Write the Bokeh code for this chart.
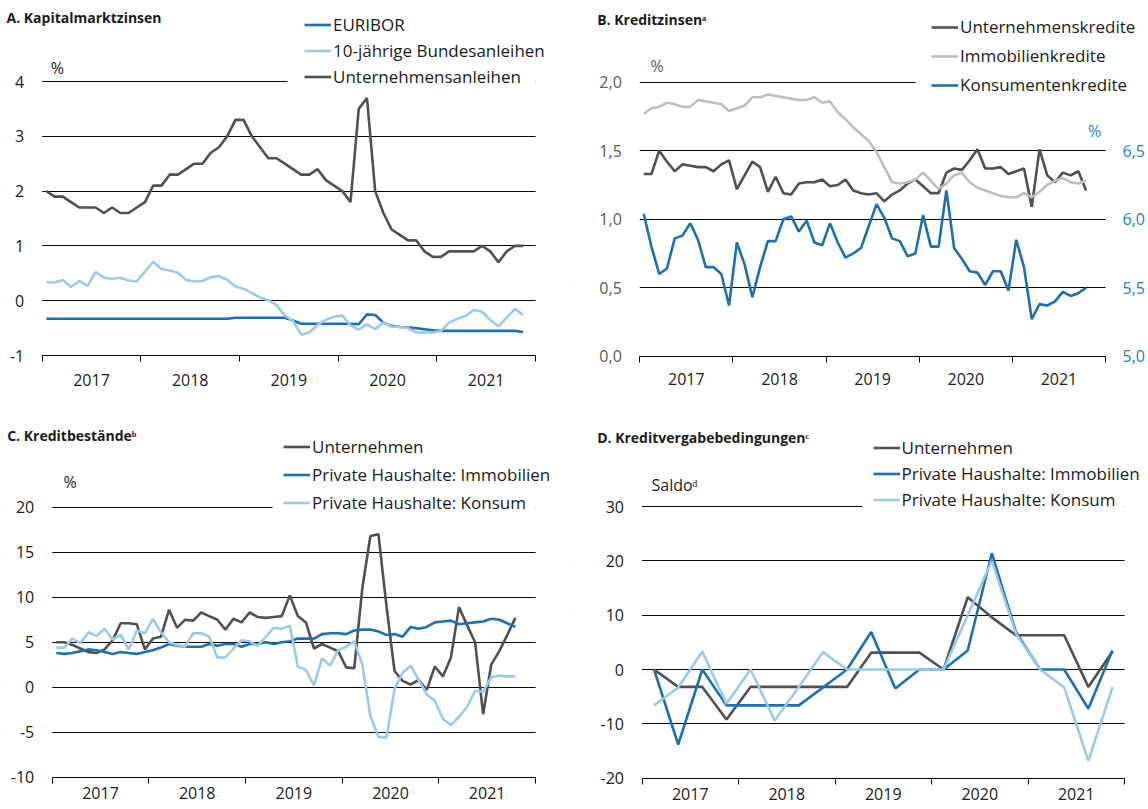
from bokeh.plotting import figure
from bokeh.models import Range1d, LinearAxis, FixedTicker, Legend, LegendItem, Label, BoxAnnotation
from bokeh.layouts import column, row
from bokeh.embed import file_html
from bokeh.resources import INLINE

FONT = "Open Sans"
DARK = "#505050"
BLUE = "#1c6fb5"
LIGHTBLUE = "#9cc8e9"
LIGHTGRAY = "#bdbdbd"
TXT = "#1a1a1a"

# ---------------- data ----------------
years = [2017, 2018, 2019, 2020, 2021]
year_labels = ["2017", "2018", "2019", "2020", "2021"]

# A. Kapitalmarktzinsen (monthly, Jan 2017 - Nov 2021)
a_euribor = [-0.33] * 23 + [-0.31] * 7 + [-0.36] + [-0.42] * 7 + [
    -0.43, -0.25, -0.26, -0.40, -0.46, -0.48, -0.49, -0.50, -0.52, -0.54,
    -0.55, -0.55, -0.55, -0.55, -0.55, -0.55, -0.55, -0.55, -0.55, -0.55, -0.57]
a_bund = [0.34, 0.33, 0.38, 0.25, 0.36, 0.27, 0.52, 0.42, 0.40, 0.42,
          0.37, 0.35, 0.53, 0.71, 0.58, 0.55, 0.51, 0.38, 0.35, 0.36,
          0.43, 0.45, 0.38, 0.26, 0.22, 0.14, 0.06, 0.01, -0.08, -0.27,
          -0.37, -0.62, -0.58, -0.44, -0.35, -0.29, -0.27, -0.45, -0.53, -0.43,
          -0.52, -0.40, -0.47, -0.48, -0.50, -0.58, -0.58, -0.58, -0.55, -0.40,
          -0.33, -0.28, -0.17, -0.20, -0.35, -0.47, -0.31, -0.15, -0.26]
a_corp = [2.0, 1.9, 1.9, 1.8, 1.7, 1.7, 1.7, 1.6, 1.7, 1.6,
          1.6, 1.7, 1.8, 2.1, 2.1, 2.3, 2.3, 2.4, 2.5, 2.5,
          2.7, 2.8, 3.0, 3.3, 3.3, 3.0, 2.8, 2.6, 2.6, 2.5,
          2.4, 2.3, 2.3, 2.4, 2.2, 2.1, 2.0, 1.8, 3.5, 3.7,
          2.0, 1.6, 1.3, 1.2, 1.1, 1.1, 0.9, 0.8, 0.8, 0.9,
          0.9, 0.9, 0.9, 1.0, 0.9, 0.7, 0.9, 1.0, 1.0]

# B. Kreditzinsen (monthly, Jan 2017 - Oct 2021)
b_unt = [1.33, 1.33, 1.50, 1.42, 1.35, 1.40, 1.39, 1.38, 1.38, 1.35,
         1.40, 1.43, 1.22, 1.32, 1.42, 1.38, 1.20, 1.31, 1.19, 1.18,
         1.26, 1.27, 1.27, 1.29, 1.24, 1.25, 1.29, 1.21, 1.19, 1.18,
         1.19, 1.13, 1.18, 1.21, 1.26, 1.29, 1.24, 1.19, 1.19, 1.34,
         1.37, 1.36, 1.43, 1.51, 1.37, 1.37, 1.38, 1.33, 1.35, 1.37,
         1.09, 1.51, 1.32, 1.27, 1.34, 1.32, 1.35, 1.21]
b_imm = [1.77, 1.81, 1.82, 1.85, 1.84, 1.82, 1.82, 1.87, 1.86, 1.85,
         1.84, 1.79, 1.81, 1.83, 1.89, 1.89, 1.91, 1.90, 1.89, 1.88,
         1.87, 1.87, 1.89, 1.85, 1.86, 1.78, 1.73, 1.67, 1.62, 1.57,
         1.49, 1.38, 1.27, 1.26, 1.27, 1.29, 1.34, 1.28, 1.22, 1.26,
         1.32, 1.34, 1.27, 1.23, 1.21, 1.19, 1.17, 1.16, 1.16, 1.19,
         1.16, 1.20, 1.25, 1.28, 1.30, 1.27, 1.26, 1.28]
b_kons = [6.04, 5.80, 5.60, 5.64, 5.86, 5.88, 5.97, 5.85, 5.65, 5.65,
          5.60, 5.37, 5.83, 5.67, 5.43, 5.65, 5.84, 5.84, 6.00, 6.02,
          5.91, 5.99, 5.83, 5.81, 5.97, 5.83, 5.72, 5.75, 5.79, 5.95,
          6.11, 6.01, 5.86, 5.84, 5.73, 5.75, 6.03, 5.80, 5.80, 6.21,
          5.79, 5.71, 5.62, 5.61, 5.52, 5.62, 5.62, 5.48, 5.85, 5.65,
          5.27, 5.38, 5.37, 5.40, 5.47, 5.44, 5.46, 5.50]

# C. Kreditbestände (monthly, Jan 2017 - Oct 2021)
c_unt = [5.0, 5.0, 4.7, 4.3, 3.9, 3.8, 4.2, 5.2, 7.1, 7.1,
         7.0, 4.2, 5.4, 5.6, 8.6, 6.6, 7.5, 7.4, 8.3, 7.9,
         7.5, 6.4, 7.6, 7.2, 8.3, 7.8, 7.7, 7.8, 7.9, 10.2,
         7.9, 7.2, 4.3, 4.8, 4.4, 4.0, 2.2, 2.1, 11.0, 16.8,
         17.0, 9.0, 1.8, 0.7, 0.3, 0.8, -0.3, 2.3, 1.2, 3.3,
         8.9, 6.9, 5.0, -3.0, 2.5, 4.0, 5.8, 7.7]
c_imm = [3.8, 3.7, 3.8, 4.0, 4.2, 4.1, 3.9, 3.7, 3.9, 3.8,
         3.7, 3.9, 4.1, 4.4, 4.8, 4.6, 4.5, 4.5, 4.5, 4.8,
         4.6, 4.8, 4.8, 4.5, 4.8, 4.8, 5.0, 4.8, 5.0, 5.1,
         5.4, 5.4, 5.4, 5.9, 6.0, 6.0, 5.9, 6.3, 6.4, 6.4,
         6.2, 5.8, 5.9, 5.6, 6.7, 6.5, 6.7, 7.2, 7.3, 7.4,
         7.0, 7.1, 7.2, 7.3, 7.6, 7.5, 7.1, 6.7]
c_kons = [4.4, 4.4, 5.4, 4.9, 6.1, 5.7, 6.5, 5.3, 5.8, 4.2,
          6.3, 6.0, 7.6, 6.1, 5.0, 4.7, 4.5, 6.0, 6.0, 5.6,
          3.3, 3.3, 4.3, 5.2, 5.1, 4.6, 5.6, 6.6, 6.5, 6.8,
          2.3, 1.9, 0.2, 3.2, 2.4, 4.1, 4.5, 5.1, 2.5, -3.2,
          -5.5, -5.6, -0.2, 1.6, 2.4, 0.8, -0.8, -1.5, -3.5, -4.2,
          -3.3, -2.2, -0.4, -0.5, 1.1, 1.3, 1.2, 1.2]

# D. Kreditvergabebedingungen (quarterly, Q1 2017 - Q4 2021)
d_unt = [0, -3.2, -3.2, -9.2, -3.2, -3.2, -3.2, -3.2, -3.2, 3.1,
         3.1, 3.1, 0, 13.3, 9.6, 6.3, 6.3, 6.3, -3.2, 3.3]
d_imm = [0, -13.8, 0, -6.6, -6.6, -6.6, -6.6, -3.3, 0, 6.9,
         -3.5, 0, 0, 3.5, 21.4, 6.9, 0, 0, -7.2, 3.5]
d_kons = [-6.6, -3.3, 3.3, -6.3, 0, -9.4, -3.2, 3.2, 0, 0,
          0, 0, 0, 10.0, 20.0, 6.6, 0, -3.3, -16.8, -3.3]


def monthly_x(n):
    return [2017 + (i + 0.5) / 12 for i in range(n)]


def quarterly_x(n):
    return [2017 + (i + 0.5) / 4 for i in range(n)]


class Panel:
    """One chart; the frame covers the whole canvas, axes are pinned inside it."""

    def __init__(self, cx0, cy0, cw, ch, xa_px, xb_px, ya, ya_px, yb, yb_px):
        self.cx0, self.cy0, self.cw, self.ch = cx0, cy0, cw, ch
        self.sx = (xb_px - xa_px) / 5.0
        self.sy = (ya_px - yb_px) / float(yb - ya)
        self.x0 = 2017 - (xa_px - cx0) / self.sx
        self.x1 = 2022 + (cx0 + cw - xb_px) / self.sx
        self.y0 = ya - (cy0 + ch - ya_px) / self.sy
        self.y1 = yb + (yb_px - cy0) / self.sy
        self.ybottom = ya
        self.p = figure(width=cw, height=ch,
                        x_range=Range1d(self.x0, self.x1),
                        y_range=Range1d(self.y0, self.y1),
                        output_backend="svg", toolbar_location=None,
                        title_location=None,
                        min_border_left=0, min_border_right=0,
                        min_border_top=0, min_border_bottom=0)
        p = self.p
        p.outline_line_color = None
        p.background_fill_color = "white"
        p.border_fill_color = "white"
        p.xgrid.visible = False

    def dx(self, px):
        return self.x0 + (px - self.cx0) / self.sx

    def dy(self, py):
        return self.y1 - (py - self.cy0) / self.sy

    def setup_axes(self, yticks, ylabels, ycolor=TXT, standoff_x=12, standoff_y=18):
        p = self.p
        xa = p.xaxis[0]
        xa.fixed_location = self.ybottom
        xa.bounds = (2017, 2022)
        xa.ticker = FixedTicker(ticks=[y + 0.5 for y in years],
                                minor_ticks=[2017, 2018, 2019, 2020, 2021, 2022])
        xa.major_label_overrides = {y + 0.5: lab for y, lab in zip(years, year_labels)}
        xa.major_tick_out = 0
        xa.major_tick_in = 0
        xa.major_tick_line_color = None
        xa.minor_tick_out = 6
        xa.minor_tick_in = 0
        xa.minor_tick_line_color = "black"
        xa.axis_line_color = "black"
        xa.axis_line_width = 1
        xa.major_label_text_font = FONT
        xa.major_label_text_font_size = "16px"
        xa.major_label_text_color = TXT
        xa.major_label_standoff = standoff_x

        ya = p.yaxis[0]
        ya.fixed_location = 2017
        ya.ticker = FixedTicker(ticks=yticks)
        ya.major_label_overrides = dict(zip(yticks, ylabels))
        ya.axis_line_color = None
        ya.major_tick_line_color = None
        ya.minor_tick_line_color = None
        ya.major_tick_out = 0
        ya.major_tick_in = 0
        ya.major_label_standoff = standoff_y
        ya.major_label_text_font = FONT
        ya.major_label_text_font_size = "16px"
        ya.major_label_text_color = ycolor

        g = p.ygrid[0]
        g.ticker = FixedTicker(ticks=yticks[1:])
        g.grid_line_color = "black"
        g.grid_line_width = 1

    def mask_grid(self, top_tick, cut_px):
        # grid lines only between 2017 and 2022; the top one stops at the legend
        h = 3 / self.sy
        for left, right, bot, top in [
                (self.x0 - 1, 2017, self.y0, self.y1),
                (2022, self.x1 + 1, self.y0, self.y1),
                (self.dx(cut_px), 2022, top_tick - h, top_tick + h)]:
            self.p.add_layout(BoxAnnotation(left=left, right=right, bottom=bot, top=top,
                                            fill_color="white", fill_alpha=1,
                                            line_color=None, level="underlay"))

    def label(self, px, py, text, size="16px", color=TXT, bold=False, align="left"):
        self.p.add_layout(Label(x=self.dx(px), y=self.dy(py), text=text,
                                text_font=FONT, text_font_size=size,
                                text_color=color,
                                text_font_style="bold" if bold else "normal",
                                text_align=align, text_baseline="middle"))

    def legend(self, items, glyph_left_px, top_px, h, sp=3):
        n = len(items)
        bottom_px = top_px + n * h + (n - 1) * sp
        lg = Legend(items=[LegendItem(label=l, renderers=[r]) for l, r in items],
                    location=(glyph_left_px - self.cx0, self.cy0 + self.ch - bottom_px),
                    orientation="vertical", padding=0, margin=0, spacing=sp,
                    label_height=h, glyph_height=h, glyph_width=27,
                    label_standoff=2, label_text_font=FONT,
                    label_text_font_size="17px", label_text_color=TXT,
                    border_line_color=None, background_fill_alpha=0)
        self.p.add_layout(lg)


LW = 2.6
TITLE = "14px"

# ---------- Panel A ----------
A = Panel(0, 0, 574, 400, 41.7, 535, -1, 355, 4, 81)
A.setup_axes([-1, 0, 1, 2, 3, 4], ["-1", "0", "1", "2", "3", "4"], standoff_x=12)
ra1 = A.p.line(monthly_x(len(a_euribor)), a_euribor, line_color=BLUE, line_width=LW)
ra2 = A.p.line(monthly_x(len(a_bund)), a_bund, line_color=LIGHTBLUE, line_width=LW)
ra3 = A.p.line(monthly_x(len(a_corp)), a_corp, line_color=DARK, line_width=LW)
A.mask_grid(4, 287)
A.label(6, 17, "A. Kapitalmarktzinsen", size=TITLE, bold=True)
A.label(56.8, 67.5, "%", align="center")
A.legend([("EURIBOR", ra1), ("10-jährige Bundesanleihen", ra2),
          ("Unternehmensanleihen", ra3)], 304, 12.5, 23)

# ---------- Panel B ----------
B = Panel(574, 0, 573, 400, 639.3, 1105, 0.0, 355.7, 2.0, 81.7)
B.setup_axes([0, 0.5, 1.0, 1.5, 2.0], ["0,0", "0,5", "1,0", "1,5", "2,0"],
             ycolor="#595959", standoff_x=11)
B.p.extra_y_ranges = {"right": Range1d(B.y0 + 5.0, B.y1 + 5.0)}
rax = LinearAxis(y_range_name="right", fixed_location=2022)
rticks = [5.0, 5.5, 6.0, 6.5]
rax.ticker = FixedTicker(ticks=rticks)
rax.major_label_overrides = {5.0: "5,0", 5.5: "5,5", 6.0: "6,0", 6.5: "6,5"}
rax.axis_line_color = None
rax.major_tick_line_color = None
rax.minor_tick_line_color = None
rax.major_tick_out = 0
rax.major_tick_in = 0
rax.major_label_standoff = 17
rax.major_label_text_font = FONT
rax.major_label_text_font_size = "16px"
rax.major_label_text_color = "#2780c4"
B.p.add_layout(rax, "right")
rb1 = B.p.line(monthly_x(len(b_unt)), b_unt, line_color=DARK, line_width=LW)
rb2 = B.p.line(monthly_x(len(b_imm)), b_imm, line_color=LIGHTGRAY, line_width=LW)
rb3 = B.p.line(monthly_x(len(b_kons)), b_kons, line_color=BLUE, line_width=LW,
               y_range_name="right")
B.mask_grid(2.0, 915)
B.label(596.7, 19, "B. Kreditzinsenᵃ", size=TITLE, bold=True)
B.label(656.7, 65, "%", align="center", color="#595959")
B.label(1094, 130, "%", align="center", color="#2780c4")
B.legend([("Unternehmenskredite", rb1), ("Immobilienkredite", rb2),
          ("Konsumentenkredite", rb3)], 931, 13.7, 26)

# ---------- Panel C ----------
C = Panel(0, 400, 574, 408, 51.7, 535, -10, 776.7, 20, 506.7)
C.setup_axes([-10, -5, 0, 5, 10, 15, 20], ["-10", "-5", "0", "5", "10", "15", "20"],
             standoff_x=4)
rc1 = C.p.line(monthly_x(len(c_unt)), c_unt, line_color=DARK, line_width=LW)
rc2 = C.p.line(monthly_x(len(c_imm)), c_imm, line_color=BLUE, line_width=LW)
rc3 = C.p.line(monthly_x(len(c_kons)), c_kons, line_color=LIGHTBLUE, line_width=LW)
C.mask_grid(20, 272)
C.label(6.7, 435, "C. Kreditbeständeᵇ", size=TITLE, bold=True)
C.label(69.6, 481.7, "%", align="center")
C.legend([("Unternehmen", rc1), ("Private Haushalte: Immobilien", rc2),
          ("Private Haushalte: Konsum", rc3)], 283, 434.2, 25)

# ---------- Panel D ----------
D = Panel(574, 400, 573, 408, 641.5, 1124, -20, 777.7, 30, 506)
D.setup_axes([-20, -10, 0, 10, 20, 30], ["-20", "-10", "0", "10", "20", "30"],
             standoff_x=4)
rd1 = D.p.line(quarterly_x(len(d_unt)), d_unt, line_color=DARK, line_width=LW)
rd2 = D.p.line(quarterly_x(len(d_imm)), d_imm, line_color=BLUE, line_width=LW)
rd3 = D.p.line(quarterly_x(len(d_kons)), d_kons, line_color=LIGHTBLUE, line_width=LW)
D.mask_grid(30, 862)
D.label(596.7, 436.7, "D. Kreditvergabebedingungenᶜ", size=TITLE, bold=True)
D.label(651, 484, "Saldoᵈ")
D.legend([("Unternehmen", rd1), ("Private Haushalte: Immobilien", rd2),
          ("Private Haushalte: Konsum", rd3)], 872.5, 436.2, 23)

layout = column(row(A.p, B.p), row(C.p, D.p))
open("out.html", "w").write(file_html(layout, INLINE))
